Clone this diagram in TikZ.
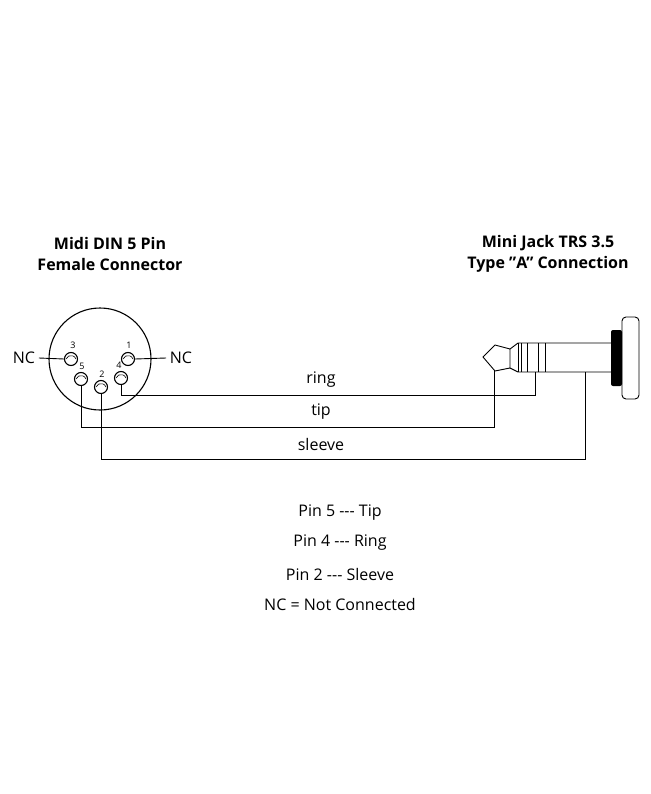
\documentclass[tikz,border=0pt]{standalone}
\usepackage{fontspec}
\setmainfont{Open Sans}
\begin{document}
\begin{tikzpicture}[x=1pt,y=-1pt,line width=1.1pt,
  pin/.style={circle,draw,minimum size=13pt,inner sep=0pt},
  num/.style={font=\fontsize{9}{10}\selectfont,inner sep=1pt},
  lbl/.style={font=\fontsize{16}{19}\selectfont},
  ttl/.style={font=\bfseries\fontsize{16}{19}\selectfont,align=center},
  wire/.style={line width=0.9pt}]
\useasboundingbox (0,0) rectangle (650,794);
\node[ttl] (t1) at (110,254) {Midi DIN 5 Pin\\[2pt]Female Connector};
\node[ttl] (t2) at (548,254) {Mini Jack TRS 3.5\\[2pt]Type \symbol{34}A\symbol{34} Connection};
\draw (100,359) circle (51);
\node[pin] (p3) at (71,359) {}; \draw[line width=0.6pt] (66,359) arc (200:340:5.3);
\node[pin] (p1) at (128,359) {}; \draw[line width=0.6pt] (123,359) arc (200:340:5.3);
\node[pin] (p5) at (81,379) {}; \draw[line width=0.6pt] (76,379) arc (200:340:5.3);
\node[pin] (p2) at (101,387) {}; \draw[line width=0.6pt] (96,387) arc (200:340:5.3);
\node[pin] (p4) at (121,378) {}; \draw[line width=0.6pt] (116,378) arc (200:340:5.3);
\node[num] at (73,345) {3};
\node[num] at (129,345) {1};
\node[num] at (82,366) {5};
\node[num] at (102,374) {2};
\node[num] at (119,365) {4};
\node[lbl] (ncl) at (24,358) {NC};
\node[lbl] (ncr) at (181,358) {NC};
\draw[wire] (ncl.east) -- (p3.west);
\draw[wire] (p1.east) -- (ncr.west);
% jack
\coordinate (tipb) at (494,371);
\coordinate (ringb) at (535,372);
\coordinate (slvb) at (585,372);
\draw[wire] (483,357) -- (495,345) -- (510,349) -- (510,368) -- (495,371) -- cycle;
\draw[wire] (510,349) -- (518,343) -- (612,343);
\draw[wire] (510,368) -- (518,372) -- (612,372);
\foreach \xx in {518,521,527,538,545} \draw[wire] (\xx,343) -- (\xx,372);
\fill[rounded corners=2pt] (611,330) rectangle (622,386);
\draw[wire,rounded corners=4pt] (622,317) rectangle (639,399);
% wires
\draw[wire] (p4.south) |- (535,395) -- (ringb);
\draw[wire] (p5.south) |- (494,427) -- (tipb);
\draw[wire] (p2.south) |- (585,459) -- (slvb);
\node[lbl] (r) at (321,380) {ring};
\node[lbl] (t) at (321,412) {tip};
\node[lbl] (s) at (321,444) {sleeve};
\node[lbl] (l1) at (340,513) {Pin 5 -{}-{}- Tip};
\node[lbl] (l2) at (340,543) {Pin 4 -{}-{}- Ring};
\node[lbl] (l3) at (340,574) {Pin 2 -{}-{}- Sleeve};
\node[lbl] (l4) at (340,604) {NC = Not Connected};
\end{tikzpicture}
\end{document}
